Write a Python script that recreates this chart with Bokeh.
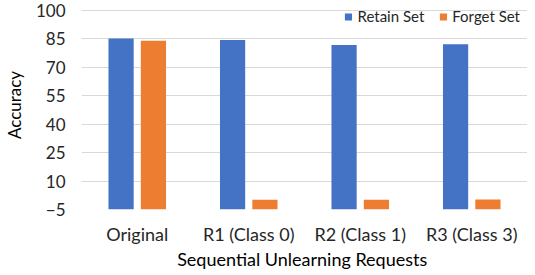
from bokeh.plotting import figure
from bokeh.models import FactorRange, Range1d, FixedTicker, ColumnDataSource, Legend, LegendItem
from bokeh.transform import dodge
from bokeh.embed import file_html
from bokeh.resources import INLINE

categories = ["Original", "R1 (Class 0)", "R2 (Class 1)", "R3 (Class 3)"]
retain_set = [85.2, 84.5, 81.8, 82.2]
forget_set = [84.0, 0.2, 0.2, 0.3]
y_ticks = [-5, 10, 25, 40, 55, 70, 85, 100]
baseline = -5

FONT = "Lato"

src = ColumnDataSource(dict(cat=categories, retain=retain_set, forget=forget_set))

p = figure(x_range=FactorRange(*categories, range_padding=0),
           y_range=Range1d(-5, 105.3),
           width=527, height=272, output_backend="svg", toolbar_location=None,
           min_border_left=70, min_border_right=0, min_border_top=0, min_border_bottom=61)
p.outline_line_color = None
p.background_fill_color = "white"

r1 = p.vbar(x=dodge("cat", -0.145, range=p.x_range), top="retain", bottom=baseline, width=0.226,
            source=src, fill_color="#4472C4", line_color=None)
r2 = p.vbar(x=dodge("cat", 0.145, range=p.x_range), top="forget", bottom=baseline, width=0.226,
            source=src, fill_color="#ED7D31", line_color=None)

p.yaxis.ticker = FixedTicker(ticks=y_ticks)
p.ygrid.ticker = FixedTicker(ticks=y_ticks)
p.ygrid.grid_line_color = "#d9d9d9"
p.ygrid.grid_line_width = 1
p.xgrid.grid_line_color = None

for ax in (p.xaxis, p.yaxis):
    ax.axis_line_color = None
    ax.major_tick_line_color = None
    ax.minor_tick_line_color = None
    ax.major_tick_out = 0
    ax.major_tick_in = 0
    ax.major_label_text_font = FONT
    ax.major_label_text_color = "#262626"
    ax.axis_label_text_font = FONT
    ax.axis_label_text_font_style = "normal"
    ax.axis_label_text_color = "#000000"

p.yaxis.major_label_text_font_size = "17px"
p.yaxis.axis_label_text_font_size = "17px"
p.xaxis.major_label_text_font_size = "18px"
p.xaxis.axis_label_text_font_size = "18px"

p.yaxis.axis_label = "Accuracy"
p.xaxis.axis_label = "Sequential  Unlearning Requests"
p.yaxis.major_label_standoff = 16
p.xaxis.major_label_standoff = 13
p.xaxis.axis_label_standoff = 0
p.yaxis.axis_label_standoff = 8

legend = Legend(items=[LegendItem(label="Retain Set", renderers=[r1]),
                       LegendItem(label="Forget Set", renderers=[r2])],
                orientation="horizontal", location="top_right",
                label_text_font=FONT, label_text_font_size="15px", label_text_color="#262626",
                glyph_width=9, glyph_height=9, spacing=14, label_standoff=5,
                padding=0, margin=7, border_line_color=None, background_fill_alpha=0)
p.add_layout(legend, "center")

open("out.html", "w").write(file_html(p, INLINE))
